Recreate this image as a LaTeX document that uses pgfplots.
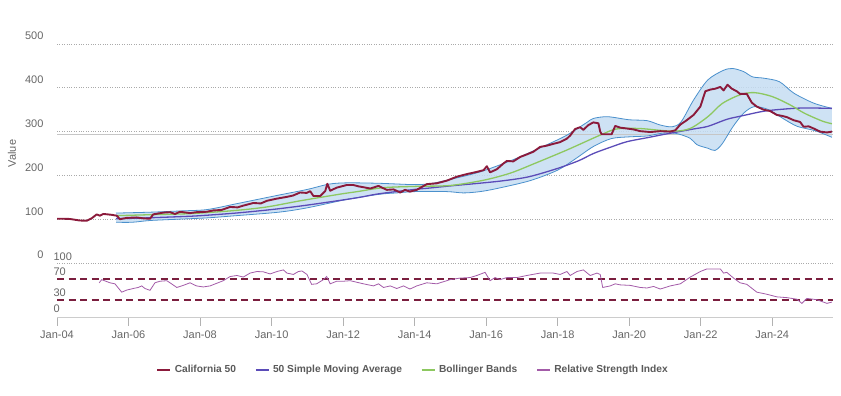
\documentclass[border=0pt]{standalone}
\usepackage{fontspec}
\setmainfont{Liberation Sans}
\usepackage{pgfplots}
\pgfplotsset{compat=1.18}
\usepgfplotslibrary{fillbetween}
\definecolor{cal}{HTML}{8B1A3B}
\definecolor{sma}{HTML}{5B4CB8}
\definecolor{bbg}{HTML}{8DC860}
\definecolor{bandfill}{HTML}{C6DDF2}
\definecolor{bandedge}{HTML}{4A90CC}
\definecolor{rsic}{HTML}{A35BA8}
\definecolor{dashc}{HTML}{7A1E3E}
\definecolor{txt}{HTML}{666666}
\definecolor{legtxt}{HTML}{5A5A5A}
\definecolor{gridc}{HTML}{AAAAAA}

\pgfplotstableread{
x y
2004.00 101
2004.20 101
2004.36 100.5
2004.64 97
2004.83 96.5
2004.97 102
2005.11 111
2005.20 108
2005.30 112
2005.53 110
2005.67 108
2005.76 100
2005.95 103
2006.23 104
2006.41 102
2006.60 101
2006.69 111
2006.97 115
2007.16 116
2007.30 112
2007.44 117
2007.72 114
2007.90 116
2008.19 117
2008.37 120
2008.60 121
2008.84 128
2009.05 127
2009.21 131
2009.49 137
2009.70 136
2009.87 142
2010.15 147
2010.43 151
2010.60 154
2010.80 161
2010.98 160
2011.08 164
2011.17 153
2011.36 153
2011.50 164
2011.56 181
2011.64 165
2011.82 172
2012.10 178
2012.29 178
2012.43 175
2012.57 173
2012.76 170
2012.99 176
2013.22 167
2013.41 168
2013.60 161
2013.73 167
2013.87 163
2014.06 167
2014.34 180
2014.62 182
2014.90 188
2015.18 197
2015.46 203
2015.74 208
2015.93 212
2016.02 221
2016.11 207
2016.30 214
2016.48 227
2016.58 233
2016.76 232
2016.95 242
2017.14 248
2017.32 254
2017.51 265
2017.70 268
2017.88 272
2018.07 276
2018.26 284
2018.35 291
2018.49 306
2018.63 310
2018.72 304
2018.86 315
2019.00 321
2019.14 319
2019.19 300
2019.23 294
2019.37 294
2019.51 294
2019.61 313
2019.75 309
2019.94 307
2020.12 305
2020.31 301
2020.59 299
2020.87 301
2021.15 300
2021.29 303
2021.43 316
2021.61 326
2021.80 338
2021.99 357
2022.13 392
2022.27 396
2022.41 398
2022.55 402
2022.64 394
2022.75 407
2022.87 398
2023.01 392
2023.10 386
2023.29 386
2023.43 366
2023.57 357
2023.76 350
2023.94 347
2024.13 338
2024.27 336
2024.41 333
2024.60 326
2024.78 322
2024.88 311
2025.02 312
2025.16 307
2025.34 300
2025.53 298
2025.67 300
}\pricetable

\pgfplotstableread{
x y
2005.65 101
2006.50 103
2007.50 106
2008.00 108
2009.00 114
2010.00 122
2010.80 130
2011.50 138
2012.40 149
2013.00 158
2014.00 168
2014.40 171
2015.00 176
2015.80 182
2016.50 188
2017.20 197
2018.00 216
2018.60 234
2019.00 250
2019.50 265
2019.94 277
2020.50 286
2020.87 292
2021.20 297
2021.80 306
2022.20 312
2022.73 328
2023.10 335
2023.66 345
2024.00 349
2024.60 353
2025.00 354
2025.67 353
}\smatable

\pgfplotstableread{
x y
2005.65 108
2006.50 110
2007.50 112
2008.00 114
2009.00 120
2009.87 128
2010.80 142
2011.90 157
2012.40 163
2013.13 172
2014.06 175
2015.00 177
2015.93 189
2016.67 205
2017.32 226
2018.26 258
2019.19 292
2019.65 306
2020.30 307
2021.20 301
2021.70 307
2022.20 334
2022.60 364
2023.10 384
2023.50 389
2024.00 380
2024.50 361
2024.90 342
2025.40 324
2025.67 318
}\midtable

\pgfplotstableread{
x y
2005.65 114
2006.60 116
2007.50 119
2008.20 122
2009.00 135
2009.60 145
2010.20 155
2011.00 168
2011.60 180
2012.10 183
2013.00 182
2013.97 179
2014.43 181
2014.90 189
2015.83 208
2016.76 236
2017.70 270
2018.26 292
2018.80 320
2019.00 330
2019.40 334
2020.00 327
2020.50 325
2020.87 315
2021.20 311
2021.45 322
2021.80 372
2022.20 418
2022.64 440
2022.90 444
2023.20 437
2023.45 425
2023.76 422
2024.20 414
2024.60 388
2025.16 365
2025.67 353
}\uppertable

\pgfplotstableread{
x y
2005.65 93
2006.10 93
2006.60 97
2007.40 100
2008.20 103
2009.00 108
2010.20 116
2011.00 126
2012.10 145
2013.03 157
2013.50 160
2014.00 163
2014.90 163
2015.37 160
2015.83 163
2016.30 170
2017.23 188
2018.00 212
2018.50 238
2019.00 266
2019.50 284
2020.00 288
2020.50 290
2020.90 296
2021.30 296
2021.70 285
2021.90 270
2022.20 262
2022.40 257
2022.60 272
2022.90 311
2023.20 342
2023.50 357
2023.90 350
2024.30 330
2024.70 312
2025.20 302
2025.67 287
}\lowertable

\pgfplotstableread{
x y
2005.18 63
2005.25 69
2005.48 63
2005.62 61
2005.81 45
2005.95 49
2006.13 52
2006.27 54
2006.37 57
2006.46 52
2006.60 48.5
2006.74 63
2006.88 66
2007.07 67
2007.16 63
2007.35 54
2007.53 58
2007.72 63
2007.90 57
2008.09 55
2008.28 57
2008.65 67
2008.84 75
2009.03 77
2009.21 74
2009.40 81.6
2009.59 84.6
2009.77 84
2009.96 80
2010.15 84.6
2010.33 87.7
2010.43 81.6
2010.61 79
2010.75 84.6
2010.85 85.7
2010.99 79
2011.12 60
2011.26 61
2011.45 69
2011.54 75
2011.64 61
2011.82 66
2012.01 66
2012.20 67
2012.57 61
2012.85 57
2012.99 61
2013.13 54
2013.32 57
2013.50 52
2013.69 57
2013.87 51
2014.06 57
2014.34 63
2014.62 61
2014.71 63
2014.90 67
2014.99 69
2015.27 72
2015.55 73
2015.74 77
2015.97 83
2016.11 67
2016.25 73
2016.39 69
2016.58 73
2016.86 73
2017.14 77
2017.51 81.6
2017.88 81.6
2018.07 79
2018.26 84.6
2018.35 77
2018.54 84.6
2018.72 87.7
2018.91 77
2019.10 81.6
2019.19 79
2019.26 54
2019.47 57
2019.61 61
2019.75 59
2020.03 58
2020.31 54
2020.50 53
2020.68 56
2020.87 51
2021.15 57
2021.43 61
2021.71 74
2021.99 84.6
2022.17 89.5
2022.55 89.5
2022.64 81.6
2022.73 83
2022.92 72
2023.10 63
2023.29 60
2023.57 45
2023.85 41
2024.13 36
2024.41 34.5
2024.69 31.5
2024.83 23.5
2024.97 33
2025.25 30.5
2025.53 23.5
2025.67 26
}\rsitable

\begin{document}
\begin{tikzpicture}
\path (0,0) rectangle (841pt,396pt);
% ---------- main panel ----------
\begin{axis}[
  at={(57pt,133pt)}, anchor=south west,
  scale only axis, width=776pt, height=219pt,
  xmin=2004, xmax=2025.7, ymin=0, ymax=500,
  xtick=\empty, ytick={0,100,...,500},
  ymajorgrids, major grid style={dotted, gridc, line width=0.7pt},
  axis line style={draw=none}, major tick length=0pt,
  /pgf/number format/assume math mode=true,
  yticklabel style={anchor=south east, xshift=-10pt, yshift=0.5pt,
     font=\fontsize{11}{13}\selectfont, text=txt},
  ylabel={Value},
  ylabel style={at={(axis description cs:-0.058,0.5)}, anchor=center,
     font=\fontsize{11}{13}\selectfont, text=txt},
]
\addplot[gray!45, line width=1.2pt] coordinates {(2004,294) (2025.7,294)};
\addplot[name path=upper, draw=none, smooth] table[x=x,y=y] {\uppertable};
\addplot[name path=lower, draw=none, smooth] table[x=x,y=y] {\lowertable};
\addplot[bandfill, fill opacity=0.85, draw=none] fill between[of=upper and lower];
\addplot[bandedge, line width=0.8pt, smooth] table[x=x,y=y] {\uppertable};
\addplot[bandedge, line width=0.8pt, smooth] table[x=x,y=y] {\lowertable};
\addplot[sma, line width=1.3pt, smooth] table[x=x,y=y] {\smatable};
\addplot[bbg, line width=1.3pt, smooth] table[x=x,y=y] {\midtable};
\addplot[cal, line width=1.9pt, line join=round] table[x=x,y=y] {\pricetable};
\end{axis}
% ---------- RSI panel ----------
\begin{axis}[
  at={(57pt,78.3pt)}, anchor=south west,
  scale only axis, width=776pt, height=54.2pt,
  xmin=2004, xmax=2025.7, ymin=-4, ymax=100,
  ytick={0,30,70,100},
  xtick={2004,2006,...,2024},
  xticklabels={Jan-04,Jan-06,Jan-08,Jan-10,Jan-12,Jan-14,Jan-16,Jan-18,Jan-20,Jan-22,Jan-24},
  axis line style={draw=none},
  xtick pos=bottom, tick align=outside,
  xtick style={gray!60, line width=0.8pt},
  ytick style={draw=none},
  x tick label style={font=\fontsize{11}{13}\selectfont, text=txt, yshift=-2pt},
  /pgf/number format/assume math mode=true,
  yticklabel style={anchor=south west, xshift=1pt, yshift=-0.5pt,
     font=\fontsize{11}{13}\selectfont, text=txt},
  major tick length=8pt,
  legend columns=4,
  legend style={at={(axis description cs:0.459,-0.96)}, anchor=center,
     draw=none, fill=none, font=\fontsize{10.2}{12}\selectfont\bfseries,
     text=legtxt, column sep=1.5pt,
     /tikz/every even column/.append style={column sep=17pt}},
  legend image code/.code={\draw[#1, line width=1.6pt] (0pt,0pt) -- (13pt,0pt);},
]
\addplot[gray!40, line width=1.2pt, forget plot] coordinates {(2004,-4) (2025.7,-4)};
\addplot[color=dashc, line width=1.6pt, dash pattern=on 7pt off 4.5pt, forget plot] coordinates {(2004,70) (2025.7,70)};
\addplot[color=dashc, line width=1.6pt, dash pattern=on 7pt off 4.5pt, forget plot] coordinates {(2004,30) (2025.7,30)};
\addlegendimage{cal}
\addlegendentry{California 50}
\addlegendimage{sma}
\addlegendentry{50 Simple Moving Average}
\addlegendimage{bbg}
\addlegendentry{Bollinger Bands}
\addplot[rsic, line width=0.8pt] table[x=x,y=y] {\rsitable};
\addlegendentry{Relative Strength Index}
\end{axis}
\end{tikzpicture}
\end{document}
